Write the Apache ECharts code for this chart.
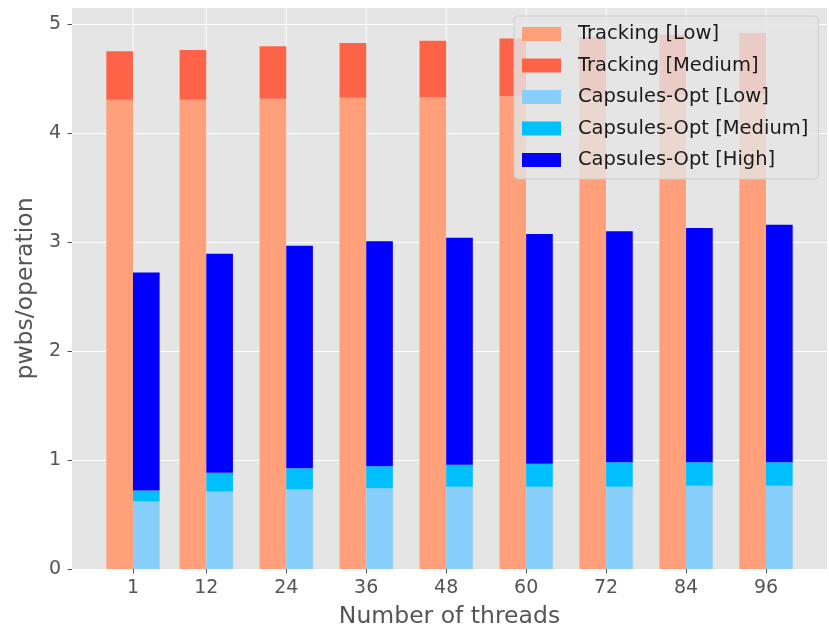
<!DOCTYPE html>
<html><head><meta charset="utf-8">
<script src="https://cdn.jsdelivr.net/npm/echarts@6/dist/echarts.min.js"></script>
<style>html,body{margin:0;padding:0;background:#fff;overflow:hidden;width:829px;height:634px}#c{position:absolute;left:0;top:0;width:829px;height:634px}</style>
</head><body><div id="c"></div>
<script>
const threads = [1, 12, 24, 36, 48, 60, 72, 84, 96];
const trackingLow    = [4.307, 4.307, 4.316, 4.325, 4.33, 4.34, 4.35, 4.35, 4.36];
const trackingMedium = [0.445, 0.458, 0.482, 0.503, 0.52, 0.53, 0.533, 0.554, 0.56];
const capsLow        = [0.62, 0.71, 0.73, 0.74, 0.755, 0.755, 0.755, 0.764, 0.764];
const capsMedium     = [0.10, 0.173, 0.194, 0.203, 0.203, 0.212, 0.225, 0.216, 0.216];
const capsHigh       = [2.002, 2.011, 2.044, 2.066, 2.084, 2.108, 2.12, 2.15, 2.18];
const yTicks = [0, 1, 2, 3, 4, 5];
const barW = 4;

const FONT = 'DejaVu Sans';

function stackSeries(groups, offset) {
  const base = threads.map(() => 0);
  return groups.map(g => {
    const data = threads.map((t, i) => {
      const b = base[i];
      base[i] += g.values[i];
      return [t, b, base[i]];
    });
    return {
      name: g.name, type: 'custom', z: 3,
      itemStyle: { color: g.color },
      encode: { x: 0, y: [1, 2] },
      data: data,
      renderItem: function (params, api) {
        const x = api.value(0), y0 = api.value(1), y1 = api.value(2);
        const p0 = api.coord([x + offset, y0]);
        const p1 = api.coord([x + offset + barW, y1]);
        return {
          type: 'rect',
          shape: { x: p0[0], y: p1[1], width: p1[0] - p0[0], height: p0[1] - p1[1] },
          style: { fill: g.color }
        };
      }
    };
  });
}

const series = [
  {
    name: 'vgrid', type: 'custom', z: 1, silent: true,
    data: threads.map(t => [t]),
    encode: { x: 0 },
    renderItem: function (params, api) {
      const p = api.coord([api.value(0), 0]);
      const cs = params.coordSys;
      return { type: 'line', shape: { x1: p[0], y1: cs.y, x2: p[0], y2: cs.y + cs.height },
               style: { stroke: '#ffffff', lineWidth: 1 } };
    }
  }
].concat(stackSeries([
  { name: 'Tracking [Low]', values: trackingLow, color: '#FFA07A' },
  { name: 'Tracking [Medium]', values: trackingMedium, color: '#FF6347' }
], -barW)).concat(stackSeries([
  { name: 'Capsules-Opt [Low]', values: capsLow, color: '#87CEFA' },
  { name: 'Capsules-Opt [Medium]', values: capsMedium, color: '#00BFFF' },
  { name: 'Capsules-Opt [High]', values: capsHigh, color: '#0000FF' }
], 0));

const chart = echarts.init(document.getElementById('c'), null, { renderer: 'canvas', width: 829, height: 634 });
chart.setOption({
  animation: false,
  backgroundColor: '#ffffff',
  textStyle: { fontFamily: FONT },
  grid: { left: 72, right: 2, top: 8, bottom: 60, show: true, backgroundColor: '#E5E5E5', borderWidth: 0, containLabel: false },
  legend: {
    data: ['Tracking [Low]', 'Tracking [Medium]', 'Capsules-Opt [Low]', 'Capsules-Opt [Medium]', 'Capsules-Opt [High]'],
    orient: 'vertical', left: 514, top: 16,
    padding: [8, 10, 9, 8],
    itemWidth: 39, itemHeight: 14, itemGap: 11.5,
    icon: 'rect',
    backgroundColor: 'rgba(229,229,229,0.8)', borderColor: '#CCCCCC', borderWidth: 1, borderRadius: 4,
    textStyle: { fontFamily: FONT, fontSize: 19.5, color: '#1a1a1a', padding: [0, 0, 0, 12] }
  },
  xAxis: {
    type: 'value', min: -8.15, max: 105.15,
    name: 'Number of threads', nameLocation: 'middle', nameGap: 36,
    nameTextStyle: { fontFamily: FONT, fontSize: 23.5, color: '#555555' },
    axisLine: { show: false, onZero: false },
    axisTick: { show: true, customValues: threads, length: 4.5, lineStyle: { color: '#555555', width: 1 } },
    axisLabel: { customValues: threads, fontFamily: FONT, fontSize: 19, color: '#555555', margin: 10 },
    splitLine: { show: false }
  },
  yAxis: {
    type: 'value', min: 0, max: 5.15, interval: 1,
    name: 'pwbs/operation', nameLocation: 'middle', nameGap: 26, nameRotate: 90,
    nameTextStyle: { fontFamily: FONT, fontSize: 23.5, color: '#555555' },
    axisLine: { show: false, onZero: false },
    axisTick: { show: true, customValues: yTicks, length: 4.5, lineStyle: { color: '#555555', width: 1 } },
    axisLabel: { customValues: yTicks, fontFamily: FONT, fontSize: 19, color: '#555555', margin: 11 },
    splitLine: { show: true, lineStyle: { color: '#ffffff', width: 1 } }
  },
  series: series
});
</script>
</body></html>
